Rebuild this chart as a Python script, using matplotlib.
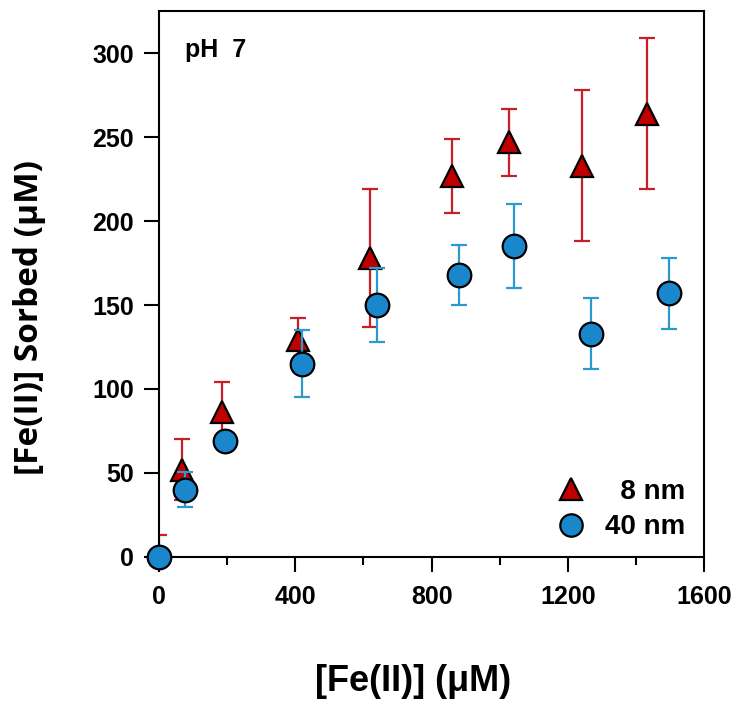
import matplotlib
matplotlib.use('Agg')
import matplotlib.pyplot as plt
from matplotlib.ticker import MultipleLocator

# 8 nm particles
fe_8nm = [0, 67, 184, 408, 620, 860, 1028, 1242, 1432]
sorbed_8nm = [0, 52, 86, 129, 178, 227, 247, 233, 264]
err_8nm = [13, 18, 18, 13, 41, 22, 20, 45, 45]

# 40 nm particles
fe_40nm = [0, 76, 194, 420, 639, 881, 1043, 1268, 1495]
sorbed_40nm = [0, 40, 69, 115, 150, 168, 185, 133, 157]
err_40nm = [0, 10.5, 0, 20, 22, 18, 25, 21, 21]

red_bar, red_fill = '#C81E28', '#C00000'
blue_bar, blue_fill = '#2A9AD0', '#1A86CC'

plt.rcParams['font.family'] = ['Liberation Sans', 'DejaVu Sans']
plt.rcParams['font.weight'] = 'bold'

fig = plt.figure(figsize=(7.36, 7.04), dpi=100)
ax = fig.add_axes([0.216, 0.209, 0.741, 0.775])

# error bars are clipped at the axes, markers are not
ax.errorbar(fe_8nm, sorbed_8nm, yerr=err_8nm, fmt='none', ecolor=red_bar,
            elinewidth=1.6, capsize=6, capthick=1.6, zorder=2)
tri, = ax.plot(fe_8nm, sorbed_8nm, '^', markersize=16, markerfacecolor=red_fill,
               markeredgecolor='black', markeredgewidth=1.6, zorder=3)
ax.errorbar(fe_40nm, sorbed_40nm, yerr=err_40nm, fmt='none', ecolor=blue_bar,
            elinewidth=1.6, capsize=6, capthick=1.6, zorder=4)
circ, = ax.plot(fe_40nm, sorbed_40nm, 'o', markersize=17, markerfacecolor=blue_fill,
                markeredgecolor='black', markeredgewidth=1.6, zorder=5, clip_on=False)

ax.set_xlim(0, 1600)
ax.set_ylim(0, 325)
ax.xaxis.set_major_locator(MultipleLocator(400))
ax.xaxis.set_minor_locator(MultipleLocator(200))
ax.set_yticks([0, 50, 100, 150, 200, 250, 300])

for s in ax.spines.values():
    s.set_linewidth(1.5)
ax.tick_params(which='major', direction='out', length=11, width=1.5,
               labelsize=18, pad=7)
ax.tick_params(which='minor', direction='out', length=6, width=1.5)
ax.tick_params(axis='x', pad=9)

ax.set_xlabel('[Fe(II)] (μM)', fontsize=26, fontweight='bold')
ax.xaxis.set_label_coords(0.466, -0.229)
ax.xaxis.label.set_va('center')
ax.set_ylabel('[Fe(II)] Sorbed (μM)', fontsize=24, fontweight='bold',
              family=['Open Sans', 'DejaVu Sans'])
ax.yaxis.set_label_coords(-0.237, 0.438)
ax.yaxis.label.set_va('center')

ax.text(0.048, 0.916, 'pH  7', transform=ax.transAxes, fontsize=18,
        fontweight='bold', va='baseline', ha='left')

leg = ax.legend([tri, circ], ['\u20078 nm', '40 nm'], loc='lower right',
                bbox_to_anchor=(0.985, 0.01), frameon=False, fontsize=20,
                handletextpad=0.7, labelspacing=0.35, borderaxespad=0.0,
                handlelength=1.0, markerscale=0.95)

fig.savefig('out.png', dpi=100)
